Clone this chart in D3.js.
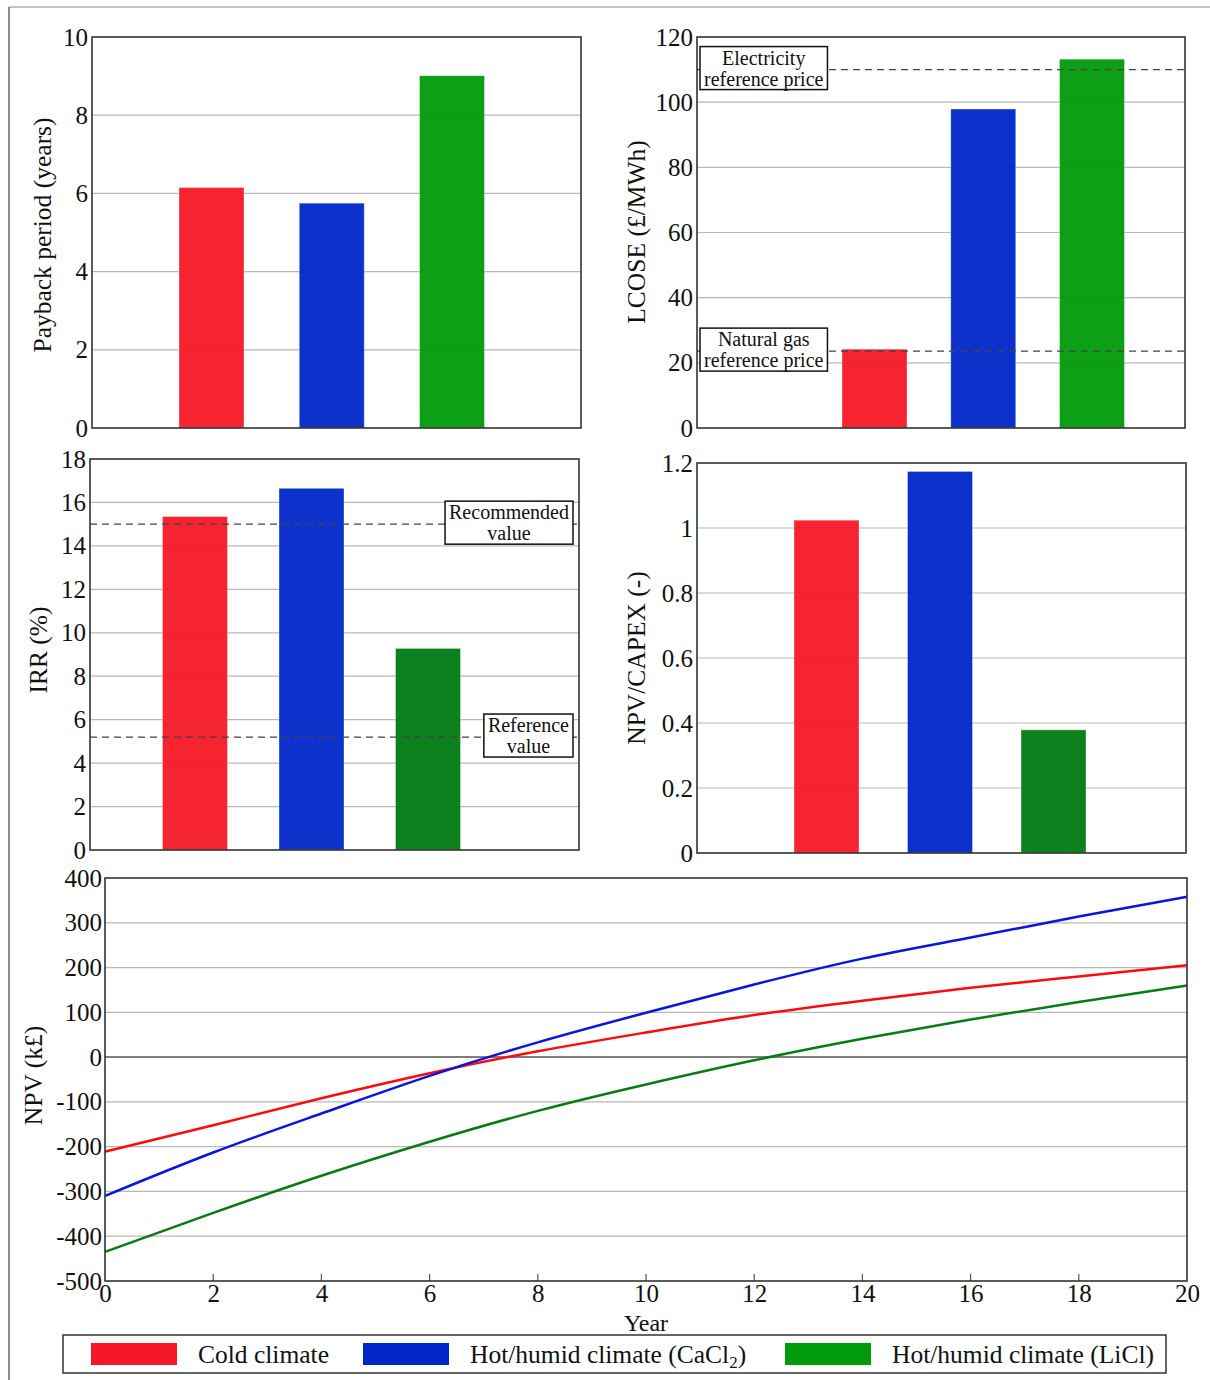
<!DOCTYPE html>
<html>
<head>
<meta charset="utf-8">
<script src="https://cdn.jsdelivr.net/npm/d3@7"></script>
<style>
  body { margin: 0; background: #fff; }
  svg { display: block; }
  svg text { font-family: "Liberation Serif", "Times New Roman", serif !important; fill: #111; }
</style>
</head>
<body>
<svg id="fig" width="1210" height="1380"></svg>
<script>
// ---- data ----
const cases = ["Cold climate", "Hot/humid climate (CaCl2)", "Hot/humid climate (LiCl)"];

const payback = [6.15, 5.75, 9.01];          // years
const lcose = [24.2, 97.9, 113.2];            // £/MWh
const irr = [15.35, 16.65, 9.28];             // %
const npvCapex = [1.024, 1.174, 0.379];       // -

const lcoseRefs = [110, 23.6];
const lcoseRefLabels = [["Electricity", "reference price"], ["Natural gas", "reference price"]];
const irrRefs = [15, 5.2];
const irrRefLabels = [["Recommended", "value"], ["Reference", "value"]];

const paybackTicks = [0, 2, 4, 6, 8, 10];
const lcoseTicks = [0, 20, 40, 60, 80, 100, 120];
const irrTicks = [0, 2, 4, 6, 8, 10, 12, 14, 16, 18];
const npvCapexTicks = [0, 0.2, 0.4, 0.6, 0.8, 1, 1.2];

const years = [0, 2, 4, 6, 8, 10, 12, 14, 16, 18, 20];
const npvCold = [-211, -152, -92, -36, 13, 55, 94, 126, 155, 180, 205];
const npvCaCl2 = [-310, -213, -126, -42, 33, 99, 162, 220, 267, 314, 358];
const npvLiCl = [-435, -348, -265, -189, -120, -61, -7, 41, 84, 123, 160];
const npvTicks = [-500, -400, -300, -200, -100, 0, 100, 200, 300, 400];
const yearTicks = [0, 2, 4, 6, 8, 10, 12, 14, 16, 18, 20];

// ---- styles ----
const barColors = ["#f51726", "#0026c8", "#009a0a"];
const barColorsDark = ["#f51726", "#0026c8", "#007a12"];
const lineColors = ["#ff0a0a", "#0a14e0", "#0a7a14"];
const gridColor = "#b8b8b8";
const frameColor = "#333";

const svg = d3.select("#fig");

// outer figure border (top + left)
svg.append("line").attr("x1", 9).attr("x2", 1210).attr("y1", 7).attr("y2", 7)
  .attr("stroke", "#888").attr("stroke-width", 1.2);
svg.append("line").attr("x1", 9).attr("x2", 9).attr("y1", 7).attr("y2", 1380)
  .attr("stroke", "#444").attr("stroke-width", 1.2);

function fmt(d) { return String(+d.toFixed(1)); }

// strip d3's default axis font so the css serif applies
function styleAxis(ax) {
  ax.attr("font-family", null).attr("font-size", null);
  ax.select(".domain").remove();
  ax.selectAll("text").style("font-size", "25px").attr("fill", "#111");
}

// generic bar panel
function barPanel(p) {
  const g = svg.append("g").attr("transform", `translate(${p.x},${p.y})`);
  const y = d3.scaleLinear().domain(p.domain).range([p.h, 0]);
  const x = d3.scalePoint().domain(cases).range(p.range);

  // gridlines
  g.selectAll(".grid").data(p.ticks.slice(1, -1)).join("line")
    .attr("x1", 0).attr("x2", p.w)
    .attr("y1", d => y(d)).attr("y2", d => y(d))
    .attr("stroke", gridColor).attr("stroke-width", 1.2);

  // bars
  g.selectAll(".bar").data(p.values).join("rect")
    .attr("x", (d, i) => x(cases[i]) - p.bw / 2)
    .attr("width", p.bw)
    .attr("y", d => y(d))
    .attr("height", d => y(0) - y(d))
    .attr("fill", (d, i) => p.colors[i])
    .attr("fill-opacity", 0.95)
    .attr("stroke", "#fff").attr("stroke-opacity", 0.35);

  // reference lines + labelled boxes
  (p.refs || []).forEach((v, i) => {
    const yy = y(v);
    g.append("line").attr("x1", 0).attr("x2", p.w).attr("y1", yy).attr("y2", yy)
      .attr("stroke", "#444").attr("stroke-width", 1.3).attr("stroke-dasharray", "7,5");
    const box = g.append("g");
    const rect = box.append("rect").attr("fill", "#fff").attr("stroke", "#111").attr("stroke-width", 1.5);
    const t = box.append("text").attr("text-anchor", "middle").style("font-size", "20px");
    t.append("tspan").attr("x", 0).attr("y", -3.5).text(p.refLabels[i][0]);
    t.append("tspan").attr("x", 0).attr("y", 17.5).text(p.refLabels[i][1]);
    const bw = t.node().getBBox().width + 8;
    rect.attr("x", -bw / 2).attr("y", -21.5).attr("width", bw).attr("height", 43);
    const cx = p.refAlign === "left" ? 3 + bw / 2 : p.w - 6 - bw / 2;
    box.attr("transform", `translate(${cx},${yy - 1.5})`);
  });

  // frame
  g.append("rect").attr("width", p.w).attr("height", p.h)
    .attr("fill", "none").attr("stroke", frameColor).attr("stroke-width", 1.6);

  // y axis labels
  const ax = g.append("g").call(d3.axisLeft(y).tickValues(p.ticks).tickSize(0).tickPadding(4).tickFormat(fmt));
  styleAxis(ax);

  // y title
  svg.append("text")
    .attr("transform", `translate(${p.titleX},${p.titleY}) rotate(-90)`)
    .attr("text-anchor", "middle").attr("dy", "0.35em")
    .style("font-size", "25.5px").text(p.title);
}

barPanel({ x: 92, y: 37, w: 489, h: 391, domain: [0, 10], ticks: paybackTicks,
  values: payback, colors: barColors, range: [119.5, 360], bw: 65,
  title: "Payback period (years)", titleX: 42, titleY: 235 });

barPanel({ x: 697, y: 37, w: 488, h: 391, domain: [0, 120], ticks: lcoseTicks,
  values: lcose, colors: barColors, range: [177.5, 395], bw: 65,
  refs: lcoseRefs, refLabels: lcoseRefLabels, refAlign: "left",
  title: "LCOSE (£/MWh)", titleX: 636, titleY: 232 });

barPanel({ x: 90, y: 459, w: 489, h: 391, domain: [0, 18], ticks: irrTicks,
  values: irr, colors: barColorsDark, range: [105, 338], bw: 65,
  refs: irrRefs, refLabels: irrRefLabels, refAlign: "right",
  title: "IRR (%)", titleX: 38, titleY: 650 });

barPanel({ x: 697, y: 463, w: 489, h: 390, domain: [0, 1.2], ticks: npvCapexTicks,
  values: npvCapex, colors: barColorsDark, range: [129.5, 356.5], bw: 65,
  title: "NPV/CAPEX (-)", titleX: 636, titleY: 658 });

// ---- NPV line chart ----
const L = { x: 105, y: 878, w: 1082, h: 403 };
const lg = svg.append("g").attr("transform", `translate(${L.x},${L.y})`);
const xs = d3.scaleLinear().domain([0, 20]).range([0, L.w]);
const ys = d3.scaleLinear().domain([-500, 400]).range([L.h, 0]);

lg.selectAll(".grid").data(npvTicks.filter(d => d !== 0 && d !== -500 && d !== 400)).join("line")
  .attr("x1", 0).attr("x2", L.w).attr("y1", d => ys(d)).attr("y2", d => ys(d))
  .attr("stroke", gridColor).attr("stroke-width", 1.2);
lg.append("line").attr("x1", 0).attr("x2", L.w).attr("y1", ys(0)).attr("y2", ys(0))
  .attr("stroke", "#555").attr("stroke-width", 1.5);

// inward ticks on the year axis
lg.selectAll(".xt").data(yearTicks.slice(1, -1)).join("line")
  .attr("x1", d => xs(d)).attr("x2", d => xs(d)).attr("y1", L.h).attr("y2", L.h - 7)
  .attr("stroke", "#555").attr("stroke-width", 1.2);

const series = [npvCold, npvCaCl2, npvLiCl];
const line = d3.line().x((d, i) => xs(years[i])).y(d => ys(d)).curve(d3.curveNatural);
lg.selectAll(".npv").data(series).join("path")
  .attr("d", line).attr("fill", "none")
  .attr("stroke", (d, i) => lineColors[i]).attr("stroke-width", 2.5);

lg.append("rect").attr("width", L.w).attr("height", L.h)
  .attr("fill", "none").attr("stroke", frameColor).attr("stroke-width", 1.6);

const yax = lg.append("g").call(d3.axisLeft(ys).tickValues(npvTicks).tickSize(0).tickPadding(3).tickFormat(d => String(d)));
styleAxis(yax);

const xax = lg.append("g").attr("transform", `translate(0,${L.h})`)
  .call(d3.axisBottom(xs).tickValues(yearTicks).tickSize(0).tickPadding(3).tickFormat(d => String(d)));
styleAxis(xax);

svg.append("text").attr("x", L.x + L.w / 2).attr("y", 1331).attr("text-anchor", "middle")
  .style("font-size", "24px").text("Year");
svg.append("text")
  .attr("transform", `translate(33,${L.y + L.h / 2 - 4}) rotate(-90)`)
  .attr("text-anchor", "middle").attr("dy", "0.35em")
  .style("font-size", "25.5px").text("NPV (k£)");

// ---- legend ----
const leg = svg.append("g");
leg.append("rect").attr("x", 63).attr("y", 1335).attr("width", 1103).attr("height", 38)
  .attr("fill", "#fff").attr("stroke", "#333").attr("stroke-width", 1.5);
const legX = d3.scaleOrdinal().domain(cases).range([91, 363, 785]);
cases.forEach((c, i) => {
  leg.append("rect").attr("x", legX(c)).attr("y", 1343).attr("width", 86).attr("height", 22)
    .attr("fill", barColors[i]);
  const t = leg.append("text").attr("x", legX(c) + 107).attr("y", 1363).style("font-size", "25.5px");
  const m = c.match(/^(.*CaCl)2(\))$/);
  if (m) {
    t.append("tspan").text(m[1]);
    t.append("tspan").attr("dy", 5).style("font-size", "17px").text("2");
    t.append("tspan").attr("dy", -5).text(m[2]);
  } else {
    t.text(c);
  }
});
</script>
</body>
</html>
